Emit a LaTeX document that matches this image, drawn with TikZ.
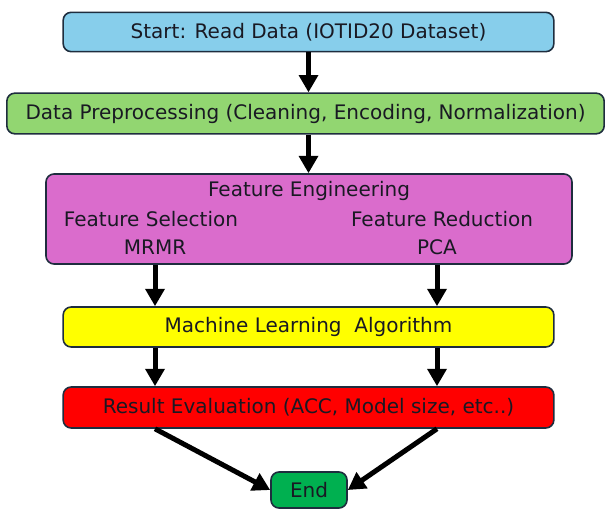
\documentclass[tikz,border=0pt]{standalone}
\usepackage{fontspec}
\setmainfont{DejaVu Sans}
\usetikzlibrary{arrows.meta, positioning}

\definecolor{startblue}{RGB}{135,206,235}
\definecolor{prepgreen}{RGB}{146,214,113}
\definecolor{featpink}{RGB}{218,108,204}
\definecolor{mlyellow}{RGB}{255,255,0}
\definecolor{resred}{RGB}{255,0,0}
\definecolor{endgreen}{RGB}{0,176,80}
\definecolor{boxline}{RGB}{30,45,62}
\definecolor{textdark}{RGB}{25,25,35}

\tikzset{
  box/.style={draw=boxline, line width=1.2pt, rounded corners=6pt, inner sep=0pt,
    text=textdark, font=\fontsize{15}{18}\selectfont},
  txt/.style={inner sep=0pt, text=textdark, font=\fontsize{15}{18}\selectfont},
  flow/.style={line width=3.75pt, -{Triangle[length=13pt, width=14pt]}},
}

\begin{document}
\begin{tikzpicture}[x=0.75pt, y=-0.75pt]
\useasboundingbox (0,0) rectangle (606,509);

%% boxes of the flow
\node[box, fill=startblue, minimum width=368pt, minimum height=29.5pt] (start) at (308.5, 32) {Start: Read Data (IOTID20 Dataset)};
\node[box, fill=prepgreen, minimum width=448pt, minimum height=30.5pt] (prep) at (305.5, 113.5) {Data Preprocessing (Cleaning, Encoding, Normalization)};
\node[box, fill=featpink, minimum width=394.5pt, minimum height=67.5pt] (feat) at (309, 219) {};
\node[box, fill=mlyellow, minimum width=368pt, minimum height=30pt] (ml) at (308.5, 327) {Machine Learning~~Algorithm};
\node[box, fill=resred, minimum width=368pt, minimum height=30.75pt] (res) at (308.5, 407.5) {Result Evaluation (ACC, Model size, etc..)};
\node[box, fill=endgreen, minimum width=57pt, minimum height=27pt] (end) at (309, 490) {End};

%% texts in the feature box
\node[txt] (fe) at (309, 191) {Feature Engineering};
\node[txt] (fsel) at (151, 219) {Feature Selection};
\node[txt] (mrmr) at (155, 247) {MRMR};
\node[txt] (fred) at (442, 219) {Feature Reduction};
\node[txt] (pca) at (437, 247) {PCA};

%% arrows
\draw[flow] (start.south) -- (start.south |- prep.north);
\draw[flow] (start.south |- prep.south) -- (start.south |- feat.north);
\draw[flow] (mrmr |- feat.south) -- (mrmr |- ml.north);
\draw[flow] (pca |- feat.south) -- (pca |- ml.north);
\draw[flow] (mrmr |- ml.south) -- (mrmr |- res.north);
\draw[flow] (pca |- ml.south) -- (pca |- res.north);
\draw[flow] (mrmr |- res.south) -- (end.west);
\draw[flow] (pca |- res.south) -- (end.east);

\end{tikzpicture}
\end{document}
